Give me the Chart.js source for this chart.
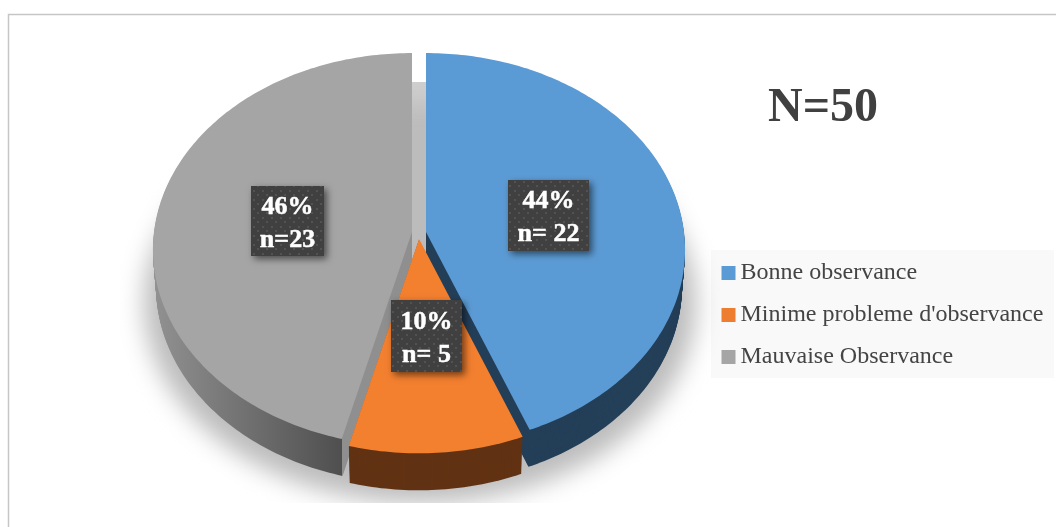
<!DOCTYPE html>
<html>
<head>
<meta charset="utf-8">
<style>html,body{margin:0;padding:0;background:#fff}canvas{display:block}</style>
<script src="https://cdn.jsdelivr.net/npm/chart.js@4"></script>
</head>
<body>
<canvas id="c" width="1056" height="527"></canvas>
<script>
const categories = ['Bonne observance', "Minime probleme d'observance", 'Mauvaise Observance'];
const counts = [22, 5, 23];
const percentLabels = ['44%', '10%', '46%'];
const countLabels = ['n= 22', 'n= 5', 'n=23'];
const chartTitle = 'N=50';
const topColors = ['#5b9bd5', '#f3802f', '#a5a5a5'];
const legendColors = ['#5b9bd5', '#ed7d31', '#a5a5a5'];

// 3D projection layout (not data)
const RX = 258, RY = 195, PERSP = 0.09, DEPTH = 37, SHRINK = 0.012;
const apexes = [[426, 232], [419, 239], [412, 232]];
const labelBoxes = [[508, 180, 81, 71], [391, 300, 71, 72], [251, 186, 73, 70]];

function project(apex, theta) {
  const u = Math.sin(theta), v = Math.cos(theta);
  const s = 1 / (1 + PERSP * v);
  return [apex[0] + RX * u * s, apex[1] - RY * v * s];
}
function slicePath(ctx, el, apex, dy) {
  const a0 = el.startAngle + Math.PI / 2, a1 = el.endAngle + Math.PI / 2;
  const n = Math.max(8, Math.ceil((a1 - a0) * 60));
  const k = 1 - SHRINK * dy / DEPTH;
  ctx.beginPath();
  ctx.moveTo(apex[0], apex[1] + dy);
  for (let i = 0; i <= n; i++) {
    const p = project(apex, a0 + (a1 - a0) * i / n);
    ctx.lineTo(apex[0] + (p[0] - apex[0]) * k, p[1] + dy);
  }
  ctx.closePath();
}
function dotPattern(ctx) {
  const t = document.createElement('canvas');
  t.width = 9; t.height = 9;
  const g = t.getContext('2d');
  g.fillStyle = '#404040'; g.fillRect(0, 0, 9, 9);
  g.fillStyle = '#525252';
  g.fillRect(1, 1, 2, 2);
  g.fillRect(5, 5, 2, 2);
  return ctx.createPattern(t, 'repeat');
}

const pie3d = {
  id: 'pie3d',
  beforeDraw(chart) {
    const ctx = chart.ctx;
    ctx.save();
    ctx.fillStyle = '#fff';
    ctx.fillRect(0, 0, 1056, 527);
    ctx.strokeStyle = '#c6c6c6';
    ctx.lineWidth = 1.5;
    ctx.strokeRect(8.5, 14.5, 1060, 530);
    ctx.fillStyle = '#f9f9f9';
    ctx.fillRect(711, 250, 343, 128);
    ctx.restore();
  },
  afterLayout(chart) {
    const lg = chart.legend, w = lg.width, h = lg.height;
    lg.left = 710.5; lg.right = lg.left + w; lg.top = 243; lg.bottom = lg.top + h;
    const t = chart.titleBlock, th = t.height;
    t.left = 723; t.right = 923; t.top = 80; t.bottom = t.top + th;
  },
  beforeDatasetsDraw(chart) {
    const ctx = chart.ctx;
    const els = chart.getDatasetMeta(0).data;
    // ground shadow
    ctx.save();
    ctx.beginPath();
    ctx.rect(120, 82, 600, 421);
    ctx.clip();
    ctx.fillStyle = '#cfcfcf';
    ctx.fillRect(400, 82, 40, 220);
    ctx.filter = 'blur(12px)';
    ctx.fillStyle = '#bcbcbc';
    ctx.beginPath();
    ctx.ellipse(420, 303, 276, 200, 0, 0, Math.PI * 2);
    ctx.fill();
    ctx.restore();
    // side walls
    const greyGrad = ctx.createLinearGradient(152, 0, 342, 0);
    greyGrad.addColorStop(0, '#929292');
    greyGrad.addColorStop(0.4, '#777777');
    greyGrad.addColorStop(0.999, '#4f4f4f');
    greyGrad.addColorStop(1, '#8f8f8f');
    const sideFills = ['#243f58', '#613213', greyGrad];
    [2, 0, 1].forEach(i => {
      ctx.fillStyle = sideFills[i];
      for (let d = DEPTH; d >= 1; d--) {
        slicePath(ctx, els[i], apexes[i], d);
        ctx.fill();
      }
    });
    // top faces
    [2, 0, 1].forEach(i => {
      ctx.fillStyle = topColors[i];
      slicePath(ctx, els[i], apexes[i], 0);
      ctx.fill();
    });
    // data labels
    const pat = dotPattern(ctx);
    labelBoxes.forEach((b, i) => {
      ctx.save();
      ctx.shadowColor = 'rgba(0,0,0,0.55)';
      ctx.shadowBlur = 7;
      ctx.shadowOffsetX = 3;
      ctx.shadowOffsetY = 3;
      ctx.fillStyle = '#404040';
      ctx.fillRect(b[0], b[1], b[2], b[3]);
      ctx.restore();
      ctx.save();
      ctx.fillStyle = pat;
      ctx.fillRect(b[0], b[1], b[2], b[3]);
      ctx.fillStyle = '#fff';
      ctx.strokeStyle = '#fff';
      ctx.lineWidth = 0.5;
      ctx.font = 'bold 26px "Liberation Serif"';
      ctx.textAlign = 'center';
      ctx.textBaseline = 'middle';
      const cx = b[0] + b[2] / 2, cy = b[1] + b[3] / 2;
      ctx.fillText(percentLabels[i], cx, cy - 14);
      ctx.strokeText(percentLabels[i], cx, cy - 14);
      ctx.fillText(countLabels[i], cx, cy + 19);
      ctx.strokeText(countLabels[i], cx, cy + 19);
      ctx.restore();
    });
    return false;
  }
};

new Chart(document.getElementById('c'), {
  type: 'pie',
  data: {
    labels: categories,
    datasets: [{ data: counts, backgroundColor: legendColors, borderWidth: 0 }]
  },
  options: {
    responsive: false,
    animation: false,
    events: [],
    layout: { padding: 0 },
    plugins: {
      tooltip: { enabled: false },
      title: {
        display: true,
        text: chartTitle,
        color: '#404040',
        padding: 0,
        font: { family: '"Liberation Serif"', size: 48, weight: 'bold', lineHeight: 1.2 }
      },
      legend: {
        position: 'right',
        align: 'start',
        labels: {
          usePointStyle: true,
          pointStyle: 'rect',
          boxWidth: 0.01,
          boxHeight: 14,
          padding: 18,
          color: '#444444',
          font: { family: '"Liberation Serif"', size: 24 }
        }
      }
    }
  },
  plugins: [pie3d]
});
</script>
</body>
</html>
